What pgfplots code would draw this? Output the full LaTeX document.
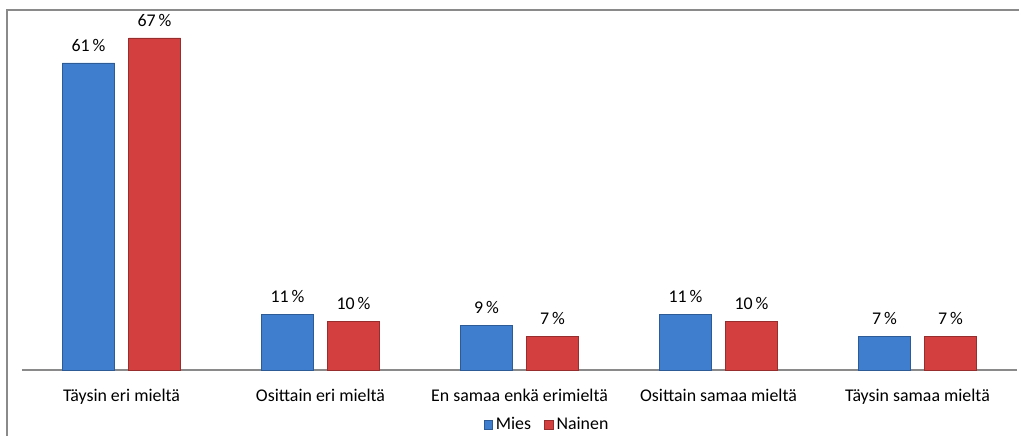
\documentclass[border=0pt]{standalone}
\usepackage{pgfplots}
\pgfplotsset{compat=1.18}
\usepackage{fontspec}
\setmainfont{Carlito}
\definecolor{bluem}{HTML}{3F7ECF}
\definecolor{redm}{HTML}{D33F3F}
\definecolor{framec}{HTML}{8A8A8A}
\begin{document}
\fontsize{13.4}{16}\selectfont
\begin{tikzpicture}
\useasboundingbox (0,0) rectangle (764.25pt,327pt);
\draw[framec, line width=1.3pt] (5.25pt,0pt) -- (5.25pt,319.5pt) -- (764.25pt,319.5pt);
\begin{axis}[
  at={(16.5pt,49.5pt)}, anchor=south west,
  scale only axis,
  width=746.25pt, height=270pt,
  xmin=-0.5, xmax=4.5, ymin=0, ymax=72,
  axis x line*=bottom, axis y line=none,
  x axis line style={framec, line width=0.8pt, -},
  xtick=data,
  xticklabels={Täysin eri mieltä, Osittain eri mieltä, En samaa enkä erimieltä, Osittain samaa mieltä, Täysin samaa mieltä},
  major tick length=0pt,
  xticklabel style={yshift=-10pt, font=\fontsize{13.4}{16}\selectfont},
  ybar=10.5pt, bar width=39pt,
  point meta=explicit symbolic,
  nodes near coords={\pgfplotspointmeta\,\%},
  every node near coord/.append style={font=\fontsize{13.4}{16}\selectfont, black, yshift=4pt},
  legend style={draw=none, fill=none, at={(0.528,-0.153)}, anchor=center, legend columns=2,
    font=\fontsize{13.4}{16}\selectfont, /tikz/every even column/.append style={column sep=8pt}},
  legend image code/.code={\fill[#1] (0pt,-3.2pt) rectangle (6.5pt,3.3pt);},
]
\addplot[draw=bluem!72!black, line width=0.6pt, fill=bluem] coordinates {(0,61.4) [61] (1,11.1) [11] (2,9.0) [9] (3,11.1) [11] (4,6.8) [7]};
\addplot[draw=redm!72!black, line width=0.6pt, fill=redm] coordinates {(0,66.4) [67] (1,9.8) [10] (2,6.8) [7] (3,9.8) [10] (4,6.8) [7]};
\legend{Mies, Nainen}
\end{axis}
\end{tikzpicture}
\end{document}
